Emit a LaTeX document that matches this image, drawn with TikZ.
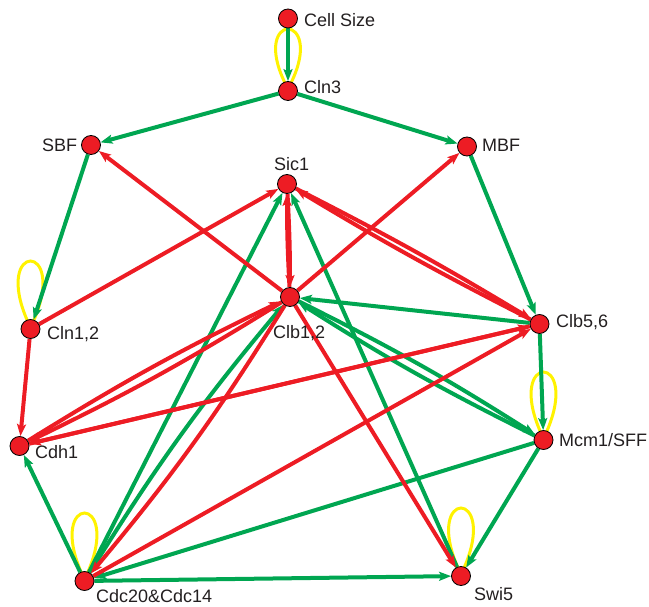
\documentclass[tikz,border=0pt]{standalone}
\usepackage{fontspec}
\setmainfont{Liberation Sans}
\usetikzlibrary{arrows.meta,calc}
\pgfdeclarelayer{bg}
\pgfsetlayers{bg,main}
\definecolor{eg}{RGB}{0,166,81}
\definecolor{er}{RGB}{237,28,36}
\definecolor{ey}{RGB}{255,242,0}
\definecolor{tx}{RGB}{35,31,32}
\newcommand\yloop[2]{\draw[loopst] ($(#1.center)+(-3,8)$) .. controls ($(#1.center)+(-38,#2)$) and ($(#1.center)+(38,#2)$) .. ($(#1.center)+(3,8)$);}
\begin{document}
\begin{tikzpicture}[x=1pt,y=1pt,
  gene/.style={circle,fill=er,draw=black,line width=0.8pt,minimum size=19pt,inner sep=0pt},
  lbl/.style={font=\fontsize{18}{20}\selectfont,text=tx,inner sep=0pt,anchor=west},
  act/.style={draw=eg,line width=4pt,-{Stealth[length=12pt,width=9pt,inset=2.5pt]}},
  inh/.style={draw=er,line width=4pt,-{Stealth[length=12pt,width=9pt,inset=2.5pt]}},
  loopst/.style={draw=ey,line width=3pt}]
\useasboundingbox (0,0) rectangle (649,-607);
% nodes
\node[gene] (CellSize) at (288,-18.5) {};
\node[gene] (Cln3) at (288,-91) {};
\node[gene] (SBF) at (91,-145) {};
\node[gene] (MBF) at (467,-146.5) {};
\node[gene] (Sic1) at (287,-184) {};
\node[gene] (Clb12) at (290,-297) {};
\node[gene] (Cln12) at (30.5,-329) {};
\node[gene] (Clb56) at (539.5,-324) {};
\node[gene] (Cdh1) at (19.5,-446) {};
\node[gene] (Mcm1) at (543.5,-440) {};
\node[gene] (Cdc20) at (84.5,-581) {};
\node[gene] (Swi5) at (461,-576) {};
% labels
\node[lbl] (lCellSize) at (304,-20) {Cell Size};
\node[lbl] (lCln3) at (304,-87) {Cln3};
\node[lbl] (lSBF) at (42,-145) {SBF};
\node[lbl] (lMBF) at (482,-145) {MBF};
\node[lbl] (lSic1) at (274,-164) {Sic1};
\node[lbl] (lClb12) at (273,-333) {Clb1,2};
\node[lbl] (lCln12) at (47,-334) {Cln1,2};
\node[lbl] (lClb56) at (556,-322) {Clb5,6};
\node[lbl] (lCdh1) at (35,-452) {Cdh1};
\node[lbl] (lMcm1) at (559,-440) {Mcm1/SFF};
\node[lbl] (lCdc20) at (96,-596) {Cdc20\&Cdc14};
\node[lbl] (lSwi5) at (474,-594) {Swi5};
\begin{pgfonlayer}{bg}
% self loops
\yloop{Cln3}{80}
\yloop{Cln12}{88}
\yloop{Mcm1}{88}
\yloop{Swi5}{88}
\yloop{Cdc20}{88}
% activations
\draw[act] (CellSize) -- (Cln3);
\draw[act] (Cln3) -- (SBF);
\draw[act] (Cln3) -- (MBF);
\draw[act] (SBF) -- (Cln12);
\draw[act] (MBF) -- (Clb56);
\draw[act] (Clb56) -- (Clb12);
\draw[act] (Clb12) to[bend left=3] (Mcm1);
\draw[act] (Mcm1) to[bend left=3] (Clb12);
\draw[act] (Clb56) -- (Mcm1);
\draw[act] (Mcm1) -- (Swi5);
\draw[act] (Mcm1) -- (Cdc20);
\draw[act] (Swi5) -- (Sic1);
\draw[act] (Cdc20) -- (Swi5);
\draw[act] (Cdc20) -- (Cdh1);
\draw[act] (Cdc20) -- (Sic1);
\draw[act] (Cdc20) to[bend left=4] (Clb12);
% inhibitions
\draw[inh] (Cln12) -- (Sic1);
\draw[inh] (Cln12) -- (Cdh1);
\draw[inh] (Clb12) -- (SBF);
\draw[inh] (Clb12) -- (MBF);
\draw[inh] (Sic1) to[bend left=1.5] (Clb12);
\draw[inh] (Clb12) to[bend left=1.5] (Sic1);
\draw[inh] (Sic1) to[bend left=2] (Clb56);
\draw[inh] (Clb56) to[bend left=2] (Sic1);
\draw[inh] (Clb12) to[bend left=3] (Cdh1);
\draw[inh] (Cdh1) to[bend left=3] (Clb12);
\draw[inh] (Clb56) -- (Cdh1);
\draw[inh] (Cdh1) -- (Clb56);
\draw[inh] (Clb12) -- (Swi5);
\draw[inh] (Clb12) to[bend left=4] (Cdc20);
\draw[inh] (Cdc20) -- (Clb56);
\end{pgfonlayer}
\end{tikzpicture}
\end{document}
